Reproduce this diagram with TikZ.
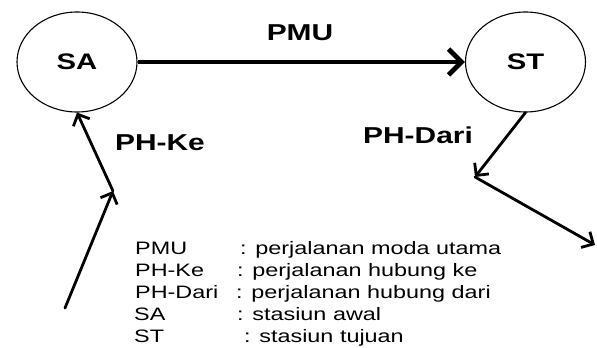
\documentclass[tikz,border=0pt]{standalone}
\usepackage{fontspec}
\usepackage{graphicx}
\setmainfont{Liberation Sans}
\usetikzlibrary{arrows.meta,shapes.geometric}
% horizontally widened lettering
\newcommand{\wide}[1]{\scalebox{1.3}[1]{#1}}
\begin{document}
\begin{tikzpicture}[x=1pt,y=-1pt,
  station/.style={ellipse,draw,line width=1.1pt,minimum width=120pt,minimum height=100pt,inner sep=0pt,
    font=\fontsize{22.5}{26}\selectfont\bfseries},
  tag/.style={font=\fontsize{23}{26}\selectfont\bfseries,inner sep=0pt},
  legend/.style={font=\fontsize{18}{22}\selectfont,inner sep=0pt,anchor=base west},
  mainleg/.style={line width=4.8pt,-{Straight Barb[length=13pt,width=26pt]}},
  linkleg/.style={line width=2.8pt,line cap=round,-{Straight Barb[length=9pt,width=18pt]}},
  plainleg/.style={line width=2.8pt,line cap=round}]
\useasboundingbox (0,0) rectangle (597,348);

% stations
\node[station] (SA) at (77,62) {\wide{SA}};
\node[station] (ST) at (525.5,62) {\wide{ST}};

% main mode trip
\draw[mainleg] (SA.east) -- (ST.west);
\node[tag] (lPMU) at (300,32.5) {\wide{PMU}};

% access leg into the origin station
\coordinate (k1) at (65,308);
\coordinate (k2) at (113,191);
\draw[linkleg] (k1) -- (k2);
\draw[linkleg] (k2) -- (SA.south);
\node[tag] (lKe) at (160,143) {\wide{PH-Ke}};

% egress leg out of the destination station
\coordinate (d1) at (475,177);
\coordinate (d2) at (595,245);
\draw[linkleg] (ST.south) -- (d1);
\draw[linkleg] (d1) -- (d2);
\node[tag] (lDari) at (418,135.5) {\wide{PH-Dari}};

% legend
\node[legend] (a1) at (135,254.5) {\wide{PMU}};
\node[legend] (b1) at (240,254.5) {\wide{: perjalanan moda utama}};
\node[legend] (a2) at (135,276.5) {\wide{PH-Ke}};
\node[legend] (b2) at (237,276.5) {\wide{: perjalanan hubung ke}};
\node[legend] (a3) at (135,298.5) {\wide{PH-Dari}};
\node[legend] (b3) at (236,298.5) {\wide{: perjalanan hubung dari}};
\node[legend] (a4) at (134,320.5) {\wide{SA}};
\node[legend] (b4) at (237,320.5) {\wide{: stasiun awal}};
\node[legend] (a5) at (134,342.5) {\wide{ST}};
\node[legend] (b5) at (244,342.5) {\wide{: stasiun tujuan}};
\end{tikzpicture}
\end{document}
